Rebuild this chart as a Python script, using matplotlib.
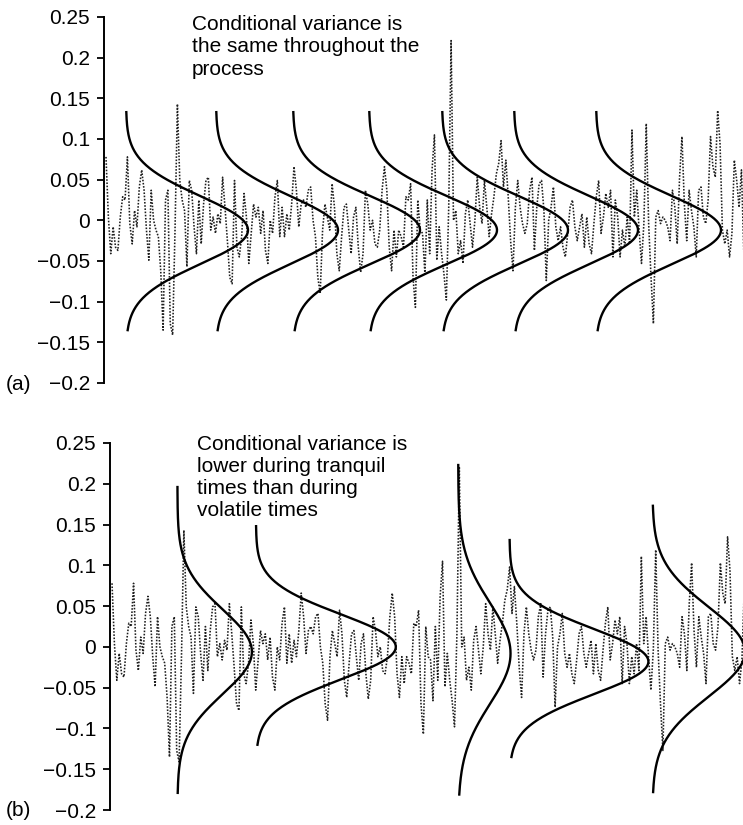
import numpy as np
import matplotlib.pyplot as plt

plt.rcParams['font.family'] = ['Liberation Sans', 'DejaVu Sans']

returns = [
    0.078, 0.004, -0.041, -0.008, -0.033, -0.037, 0.004, 0.029, 0.025, 0.078,
    -0.004, -0.029, 0.012, -0.008, 0.041, 0.062, 0.037, -0.012, -0.049, 0.037,
    0.000, -0.012, -0.020, -0.062, -0.135, 0.025, 0.037, -0.127, -0.141, -0.012,
    0.143, 0.049, 0.025, 0.012, -0.057, 0.049, 0.037, -0.008, -0.041, 0.025,
    -0.029, 0.020, 0.049, 0.053, -0.012, 0.004, -0.016, 0.008, -0.004, 0.053,
    0.016, -0.025, -0.070, -0.078, 0.049, -0.033, -0.045, -0.020, 0.033, 0.004,
    -0.053, -0.016, 0.020, 0.004, 0.016,
    -0.016, 0.012, -0.037, -0.053, 0.000, -0.016, 0.029, 0.049, -0.020, 0.016,
    -0.020, 0.008, -0.012, 0.020, 0.066, 0.037, -0.008, 0.020, 0.025, 0.016,
    0.037, 0.041, 0.000, -0.020, -0.070, -0.090, -0.012, 0.020, 0.004, -0.012,
    0.045, 0.016, -0.041, -0.062, -0.020, 0.016, 0.020, -0.012, -0.041, 0.004,
    0.016, -0.033, -0.064, -0.041, 0.037, 0.020, -0.012, 0.000, -0.029, -0.033,
    -0.012, 0.037, 0.066, 0.037, -0.033, -0.062, -0.012, -0.045, -0.012, -0.020,
    -0.033, 0.029, 0.025, 0.045, -0.070, -0.107, 0.025, -0.012,
    -0.016, -0.066, 0.025, -0.041, 0.062, 0.105, -0.049, -0.008, -0.041, -0.066,
    -0.098, 0.016, 0.221, 0.000, 0.012, -0.041, -0.025, -0.053, 0.008, 0.025,
    -0.004, -0.033, 0.000, 0.053, 0.016, -0.004, 0.049, 0.016, -0.020, 0.008,
    0.029, 0.057, 0.070, 0.098, 0.041, 0.074, 0.029, -0.025, -0.062, 0.016,
    0.049, 0.016, -0.004, -0.016, -0.004, 0.037, 0.053, -0.037, 0.016, 0.045,
    0.049, 0.012, -0.074, 0.000, 0.016, 0.041, -0.008, -0.025, -0.008, -0.033,
    -0.045, -0.016, 0.016, 0.025, -0.008, -0.025, -0.008, 0.008,
    -0.033, 0.004, -0.029, -0.041, -0.004, 0.029, 0.049, -0.016, 0.004, 0.033,
    0.016, 0.037, -0.045, 0.025, 0.004, -0.045, -0.012, -0.033, 0.004, -0.029,
    0.111, 0.004, 0.037, -0.012, -0.053, -0.004, 0.119, -0.004, -0.070, -0.127,
    0.004, 0.012, -0.004, 0.004, 0.000, -0.008, -0.025, 0.037, 0.016, -0.029,
    0.053, 0.103, 0.020, -0.025, 0.037, 0.012, -0.008, -0.045, 0.037, 0.041,
    0.004, -0.004, 0.025, 0.103, 0.066, 0.053, 0.135, 0.094, -0.012, -0.029,
    -0.012, -0.045, -0.016, 0.074, 0.049, 0.016, 0.062, -0.041,
]
time_step = 2.38

# (a) constant conditional variance: sideways densities along the series
a_pos = [20, 110, 187, 263, 336, 408, 490]
a_height = [122, 122, 127, 128, 126, 124, 125]
a_mean = [-0.012] * 7
a_sd = [0.042] * 7
a_top = [0.133] * 7
a_bottom = [-0.135] * 7

# (b) conditional variance changing with the volatility
b_pos = [65, 143, 344, 395, 537]
b_height = [74, 139, 52, 138, 92]
b_mean = [-0.006, 0.0, -0.008, -0.018, -0.006]
b_sd = [0.052, 0.040, 0.062, 0.040, 0.055]
b_top = [0.196, 0.148, 0.223, 0.131, 0.173]
b_bottom = [-0.179, -0.120, -0.181, -0.135, -0.178]

yticks = [-0.2, -0.15, -0.1, -0.05, 0, 0.05, 0.1, 0.15, 0.2, 0.25]
ytick_labels = ["\u22120.2", "\u22120.15", "\u22120.1", "\u22120.05", "0",
                "0.05", "0.1", "0.15", "0.2", "0.25"]

t = np.arange(len(returns)) * time_step

fig = plt.figure(figsize=(7.43, 8.25), dpi=100)
ax_a = fig.add_axes([104 / 743, 1 - 383 / 825, 639 / 743, 366 / 825])
ax_b = fig.add_axes([110 / 743, 1 - 810 / 825, 633 / 743, 367 / 825])


def draw_panel(ax, xlim, pos, height, mean, sd, top, bottom):
    ax.plot(t, returns, color='#1e1e1e', lw=1.15, linestyle=(0, (1, 1)),
            zorder=2)
    for p, h, m, s, hi, lo in zip(pos, height, mean, sd, top, bottom):
        y = np.linspace(lo, hi, 300)
        x = p + h * np.exp(-0.5 * ((y - m) / s) ** 2)
        ax.plot(x, y, color='black', lw=1.7, zorder=3)
    ax.set_xlim(*xlim)
    ax.set_ylim(-0.2, 0.25)
    ax.set_yticks(yticks)
    ax.set_yticklabels(ytick_labels)
    ax.set_xticks([])
    for side in ['top', 'right', 'bottom']:
        ax.spines[side].set_visible(False)
    ax.spines['left'].set_linewidth(1.4)
    ax.tick_params(axis='y', direction='out', length=5, width=1.3,
                   labelsize=15, pad=5)
    ax.patch.set_visible(False)


draw_panel(ax_a, (-2, 637), a_pos, a_height, a_mean, a_sd, a_top, a_bottom)
draw_panel(ax_b, (-2, 627), b_pos, b_height, b_mean, b_sd, b_top, b_bottom)

fig.text(192 / 743, 1 - 15 / 825,
         "Conditional variance is\nthe same throughout the\nprocess",
         fontsize=15, va='top', ha='left', linespacing=1.22)
fig.text(197 / 743, 1 - 435 / 825,
         "Conditional variance is\nlower during tranquil\ntimes than during\nvolatile times",
         fontsize=15, va='top', ha='left', linespacing=1.2)

fig.text(6 / 743, 1 - 384 / 825, "(a)", fontsize=15, va='center')
fig.text(6 / 743, 1 - 811 / 825, "(b)", fontsize=15, va='center')

fig.savefig("out.png", dpi=100)
